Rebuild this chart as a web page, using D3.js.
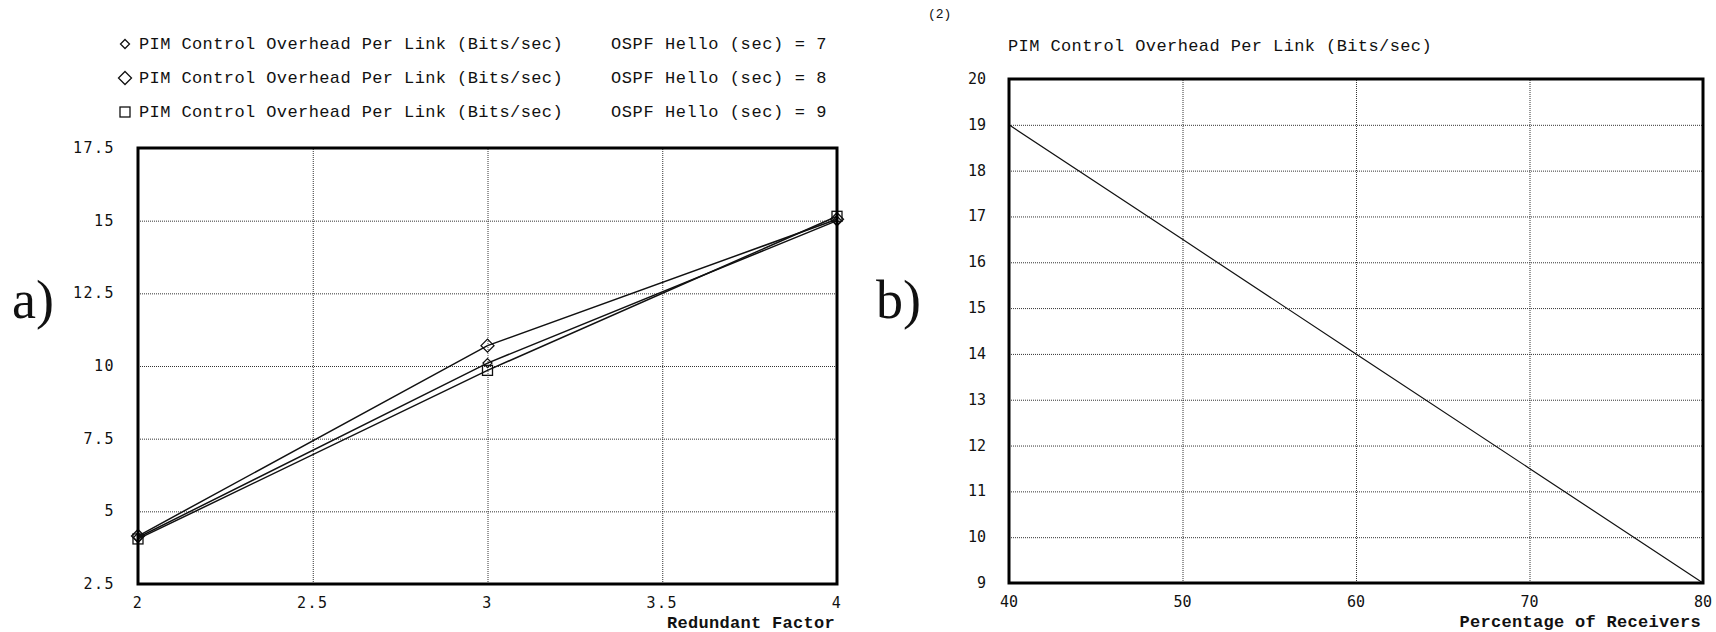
<!DOCTYPE html>
<html>
<head>
<meta charset="utf-8">
<script src="https://cdn.jsdelivr.net/npm/d3@7"></script>
<style>
  body { margin: 0; background: #fff; }
  svg text { fill: #111; }
  .tick line { stroke: #333; stroke-dasharray: 1,1; }
  .domain { display: none; }
</style>
</head>
<body>
<div id="graph"></div>
<script>
// a) redundant factor vs overhead, one series per OSPF hello interval
var redundant = [2, 3, 4];
var hello7 = [4.1, 10.1, 15.0];
var hello8 = [4.15, 10.7, 15.05];
var hello9 = [4.05, 9.85, 15.15];
var helloNames = ['OSPF Hello (sec) = 7', 'OSPF Hello (sec) = 8', 'OSPF Hello (sec) = 9'];
var xTicksA = [2, 2.5, 3, 3.5, 4];
var yTicksA = [2.5, 5, 7.5, 10, 12.5, 15, 17.5];

// b) percentage of receivers vs overhead
var receivers = [40, 50, 60, 70, 80];
var overhead = [19, 16.5, 14, 11.5, 9];
var xTicksB = [40, 50, 60, 70, 80];
var yTicksB = [9, 10, 11, 12, 13, 14, 15, 16, 17, 18, 19, 20];

var mono = '"Liberation Mono", "DejaVu Sans Mono", monospace';
var tickFont = '"DejaVu Sans Mono", monospace';

var svg = d3.select('#graph').append('svg')
    .attr('width', 1716)
    .attr('height', 632);

// draws the framed plot, grid and tick labels, returns the scales
var panel = function (cfg) {
    var x = d3.scaleLinear().domain(cfg.xDomain).range([cfg.left, cfg.right]);
    var y = d3.scaleLinear().domain(cfg.yDomain).range([cfg.bottom, cfg.top]);
    var w = cfg.right - cfg.left, h = cfg.bottom - cfg.top;

    // grid (dotted)
    svg.append('g')
        .attr('transform', 'translate(0,' + cfg.bottom + ')')
        .call(d3.axisBottom(x).tickValues(cfg.xTicks).tickSize(-h).tickFormat(''));
    svg.append('g')
        .attr('transform', 'translate(' + cfg.left + ',0)')
        .call(d3.axisLeft(y).tickValues(cfg.yTicks).tickSize(-w).tickFormat(''));

    // tick labels
    svg.append('g').selectAll('text')
        .data(cfg.xTicks).enter().append('text')
        .attr('x', function (d) { return x(d); })
        .attr('y', cfg.bottom + 24)
        .attr('text-anchor', 'middle')
        .style('font-family', tickFont).style('font-size', '15px')
        .style('letter-spacing', cfg.spacing)
        .text(function (d) { return d; });
    svg.append('g').selectAll('text')
        .data(cfg.yTicks).enter().append('text')
        .attr('x', cfg.left - 23)
        .attr('y', function (d) { return y(d) + 5; })
        .attr('text-anchor', 'end')
        .style('font-family', tickFont).style('font-size', '15px')
        .style('letter-spacing', cfg.spacing)
        .text(function (d) { return d; });

    // axis title
    svg.append('text')
        .attr('x', cfg.right - 2)
        .attr('y', cfg.bottom + 44)
        .attr('text-anchor', 'end')
        .style('font-family', mono).style('font-size', '17px')
        .style('font-weight', 'bold')
        .style('letter-spacing', '0.3px')
        .text(cfg.xTitle);

    return {x: x, y: y};
};

// ---------- panel a ----------
var a = panel({
    left: 138, right: 837, top: 148, bottom: 584,
    xDomain: [2, 4], yDomain: [2.5, 17.5],
    xTicks: xTicksA, yTicks: yTicksA, spacing: '1.5px',
    xTitle: 'Redundant Factor'
});

var seriesA = [
    {name: helloNames[0], values: hello7, shape: 'small'},
    {name: helloNames[1], values: hello8, shape: 'diamond'},
    {name: helloNames[2], values: hello9, shape: 'square'}
];

var marker = function (g, shape) {
    if (shape === 'square') {
        g.append('rect').attr('x', -5).attr('y', -5).attr('width', 10).attr('height', 10);
    } else {
        var r = shape === 'small' ? 4.5 : 6.5;
        g.append('path').attr('d', 'M0,' + (-r) + 'L' + r + ',0L0,' + r + 'L' + (-r) + ',0Z');
    }
    g.selectAll('*').attr('fill', 'none').attr('stroke', '#111').attr('stroke-width', 1.3);
};

var lineA = d3.line()
    .x(function (d, i) { return a.x(redundant[i]); })
    .y(function (d) { return a.y(d); });

seriesA.forEach(function (s) {
    svg.append('path')
        .attr('d', lineA(s.values))
        .attr('fill', 'none')
        .attr('stroke', '#111')
        .attr('stroke-width', 1.5);
    s.values.forEach(function (v, i) {
        var g = svg.append('g')
            .attr('transform', 'translate(' + a.x(redundant[i]) + ',' + a.y(v) + ')');
        marker(g, s.shape);
    });
});

// legend
seriesA.forEach(function (s, i) {
    var yy = 44 + i * 34;
    var g = svg.append('g').attr('transform', 'translate(125,' + yy + ')');
    marker(g, s.shape);
    svg.append('text')
        .attr('x', 139).attr('y', yy + 5)
        .style('font-family', mono).style('font-size', '17px')
        .style('letter-spacing', '0.4px')
        .text('PIM Control Overhead Per Link (Bits/sec)');
    svg.append('text')
        .attr('x', 611).attr('y', yy + 5)
        .style('font-family', mono).style('font-size', '17px')
        .style('letter-spacing', '0.6px')
        .text(s.name);
});

svg.append('rect')
    .attr('x', 138).attr('y', 148).attr('width', 837 - 138).attr('height', 584 - 148)
    .attr('fill', 'none').attr('stroke', '#000').attr('stroke-width', 3);

// ---------- panel b ----------
var b = panel({
    left: 1009, right: 1703, top: 79, bottom: 583,
    xDomain: [40, 80], yDomain: [9, 20],
    xTicks: xTicksB, yTicks: yTicksB, spacing: '0px',
    xTitle: 'Percentage of Receivers'
});

var lineB = d3.line()
    .x(function (d, i) { return b.x(receivers[i]); })
    .y(function (d) { return b.y(d); });

svg.append('path')
    .attr('d', lineB(overhead))
    .attr('fill', 'none')
    .attr('stroke', '#111')
    .attr('stroke-width', 1.2);

svg.append('rect')
    .attr('x', 1009).attr('y', 79).attr('width', 1703 - 1009).attr('height', 583 - 79)
    .attr('fill', 'none').attr('stroke', '#000').attr('stroke-width', 3);

svg.append('text')
    .attr('x', 1008).attr('y', 51)
    .style('font-family', mono).style('font-size', '17px')
    .style('letter-spacing', '0.4px')
    .text('PIM Control Overhead Per Link (Bits/sec)');
svg.append('text')
    .attr('x', 928).attr('y', 18)
    .style('font-family', mono).style('font-size', '13px')
    .text('(2)');

// panel letters
svg.append('text')
    .attr('x', 12).attr('y', 318)
    .style('font-family', '"Liberation Serif", serif').style('font-size', '54px')
    .text('a)');
svg.append('text')
    .attr('x', 876).attr('y', 318)
    .style('font-family', '"Liberation Serif", serif').style('font-size', '54px')
    .text('b)');
</script>
</body>
</html>
